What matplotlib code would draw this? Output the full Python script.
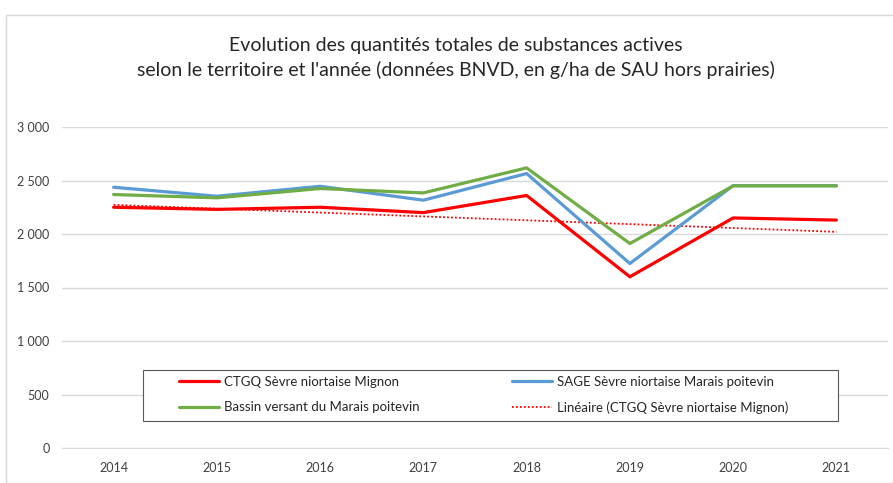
import numpy as np
import matplotlib
matplotlib.use("Agg")
import matplotlib.pyplot as plt
from matplotlib.patches import Rectangle
from matplotlib.ticker import FuncFormatter

years = ["2014", "2015", "2016", "2017", "2018", "2019", "2020", "2021"]
ctgq = [2250, 2230, 2250, 2200, 2360, 1600, 2150, 2130]
sage = [2437, 2353, 2446, 2316, 2565, 1724, 2452, 2452]
bassin = [2369, 2338, 2425, 2384, 2618, 1911, 2450, 2450]

labels = ["CTGQ Sèvre niortaise Mignon",
          "SAGE Sèvre niortaise Marais poitevin",
          "Bassin versant du Marais poitevin",
          "Linéaire (CTGQ Sèvre niortaise Mignon)"]
title = ("Evolution des quantités totales de substances actives\n"
         "selon le territoire et l'année (données BNVD, en g/ha de SAU hors prairies)")

plt.rcParams['font.family'] = ['Lato', 'DejaVu Sans']

W, H = 893, 483
fig = plt.figure(figsize=(W / 100, H / 100), dpi=100)
fig.patch.set_facecolor("white")

# outer chart border
fig.add_artist(Rectangle((6 / W, 0), 1.0, 1 - 15 / H, transform=fig.transFigure,
                         fill=False, edgecolor="#d9d9d9", linewidth=1.0))

left, right = 62 / W, 888 / W
bottom, top = 1 - 448 / H, 1 - 127 / H
ax = fig.add_axes([left, bottom, right - left, top - bottom])

x = np.arange(len(years))
red, blue, green = "#ff0000", "#5b9bd5", "#70ad47"
l1, = ax.plot(x, ctgq, color=red, lw=2.3, solid_capstyle="round", zorder=4)
l2, = ax.plot(x, sage, color=blue, lw=2.3, solid_capstyle="round", zorder=3)
l3, = ax.plot(x, bassin, color=green, lw=2.3, solid_capstyle="round", zorder=3.5)
coef = np.polyfit(x, ctgq, 1)
l4, = ax.plot(x, np.polyval(coef, x), color=red, lw=1.3, ls=(0, (1, 1.2)), zorder=2)

ax.set_xlim(-0.5, len(years) - 0.5)
ax.set_ylim(0, 3000)
ax.set_yticks(np.arange(0, 3001, 500))
ax.yaxis.set_major_formatter(FuncFormatter(lambda v, p: f"{int(v):,}".replace(",", " ")))
ax.set_xticks(x)
ax.set_xticklabels(years)
ax.grid(axis="y", color="#d9d9d9", lw=1)
ax.set_axisbelow(True)
for s in ["top", "right", "left"]:
    ax.spines[s].set_visible(False)
ax.spines["bottom"].set_color("#d9d9d9")
ax.tick_params(length=0, labelsize=9, colors="#404040")
ax.tick_params(axis="y", pad=9)
ax.tick_params(axis="x", pad=10)

fig.text(456 / W, 1 - 58 / H, title, ha="center", va="center", fontsize=14,
         color="#262626", linespacing=1.45)

# legend frame
fig.add_artist(Rectangle((143 / W, 1 - 421 / H), (838 - 143) / W, 51 / H,
                         transform=fig.transFigure, fill=False,
                         edgecolor="#595959", linewidth=0.8, zorder=5))
fig.add_artist(Rectangle((143 / W, 1 - 421 / H), (838 - 143) / W, 51 / H,
                         transform=fig.transFigure, fill=True, facecolor="white",
                         edgecolor="none", zorder=4.9))

legkw = dict(loc="upper left", fontsize=9.5, frameon=False, handlelength=3.0,
             handletextpad=0.4, labelspacing=1.0, borderpad=0, borderaxespad=0)
leg1 = fig.legend([l1, l3], [labels[0], labels[2]],
                  bbox_to_anchor=(179 / W, 1 - 376 / H), **legkw)
leg2 = fig.legend([l2, l4], [labels[1], labels[3]],
                  bbox_to_anchor=(512 / W, 1 - 376 / H), **legkw)
for lg in (leg1, leg2):
    lg.set_zorder(6)
    for t in lg.get_texts():
        t.set_color("#262626")

fig.savefig("out.png", dpi=100)
